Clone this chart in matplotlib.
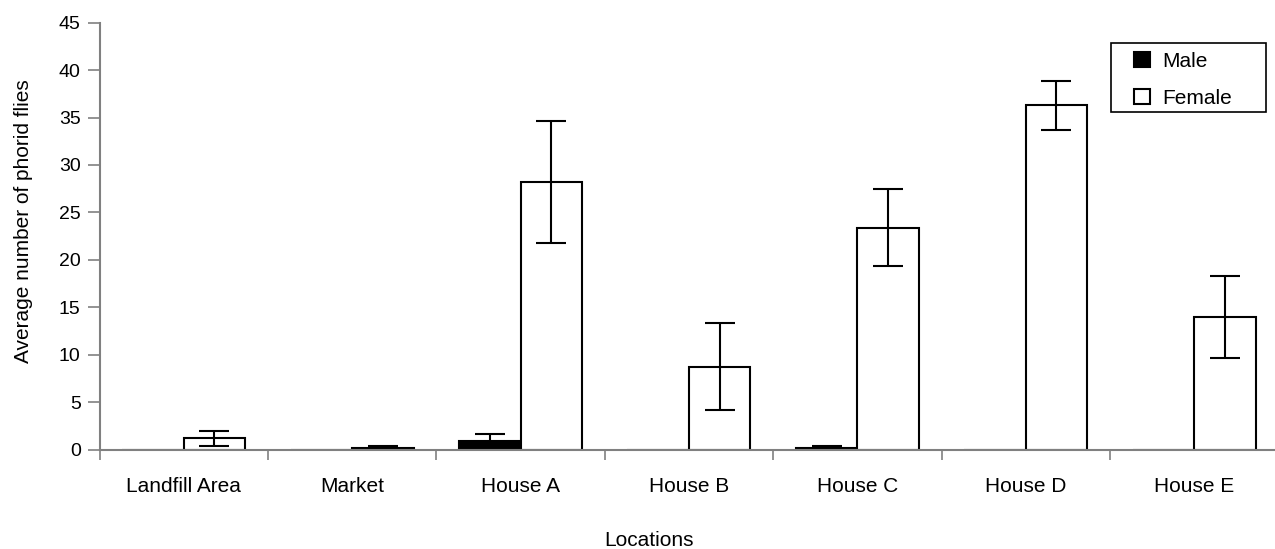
import numpy as np
import matplotlib.pyplot as plt
from matplotlib.patches import Rectangle

plt.rcParams['font.family'] = ['Liberation Sans', 'DejaVu Sans']

locations = ["Landfill Area", "Market", "House A", "House B", "House C", "House D", "House E"]
male = [0, 0, 0.9, 0, 0.2, 0, 0]
male_err = [0, 0, 0.7, 0, 0.2, 0, 0]
female = [1.2, 0.15, 28.2, 8.75, 23.4, 36.3, 14.0]
female_err = [0.8, 0.25, 6.4, 4.6, 4.1, 2.6, 4.3]
yticks = [0, 5, 10, 15, 20, 25, 30, 35, 40, 45]

W, H = 1275, 549
fig = plt.figure(figsize=(W / 100, H / 100), dpi=100)
ax = fig.add_axes([99.5 / W, 99.5 / H, 1175.5 / W, 426.8 / H])

x = np.arange(len(locations))
w = 0.365
gray = "#808080"

ax.bar(x - w / 2, male, w, color="black", edgecolor="black", linewidth=1.5, label="Male")
ax.bar(x + w / 2, female, w, color="white", edgecolor="black", linewidth=1.5, label="Female")

# error bars only where there is something to show
for i in range(len(locations)):
    if male_err[i] > 0:
        ax.errorbar(x[i] - w / 2, male[i], yerr=male_err[i], fmt="none",
                    ecolor="black", elinewidth=1.5, capsize=11, capthick=1.5)
    ax.errorbar(x[i] + w / 2, female[i], yerr=female_err[i], fmt="none",
                ecolor="black", elinewidth=1.5, capsize=11, capthick=1.5)

ax.set_xlim(-0.5, len(locations) - 0.52)
ax.set_ylim(0, 45)
ax.set_yticks(yticks)
ax.set_xticks(x)
ax.set_xticklabels(locations)
ax.set_xticks(np.arange(len(locations)) - 0.5, minor=True)
ax.tick_params(axis="x", which="major", length=0, pad=20, labelsize=15)
ax.tick_params(axis="x", which="minor", length=7, color=gray, width=1.2)
ax.tick_params(axis="y", length=8.5, color=gray, width=1.2, labelsize=14, pad=5)

for s in ["top", "right"]:
    ax.spines[s].set_visible(False)
for s in ["left", "bottom"]:
    ax.spines[s].set_color(gray)
    ax.spines[s].set_linewidth(1.5)

fig.text(649 / W, 1 - 540 / H, "Locations", fontsize=15, ha="center", va="center")
fig.text(24 / W, 1 - 221 / H, "Average number of phorid flies", fontsize=15,
         ha="center", va="center", rotation=90)

# legend box drawn by hand, legend entries without frame inside it
fig.patches.append(Rectangle((1111 / W, 1 - 112 / H), 155 / W, 69 / H,
                             transform=fig.transFigure, fill=False,
                             edgecolor="black", linewidth=1.2))
ax.legend(loc="upper left", bbox_to_anchor=(1134 / W, 1 - 52 / H),
          bbox_transform=fig.transFigure, fontsize=15, frameon=False,
          handlelength=0.75, handleheight=0.75, handletextpad=0.6,
          borderpad=0, labelspacing=0.85, borderaxespad=0)

fig.savefig("out.png", dpi=100)
